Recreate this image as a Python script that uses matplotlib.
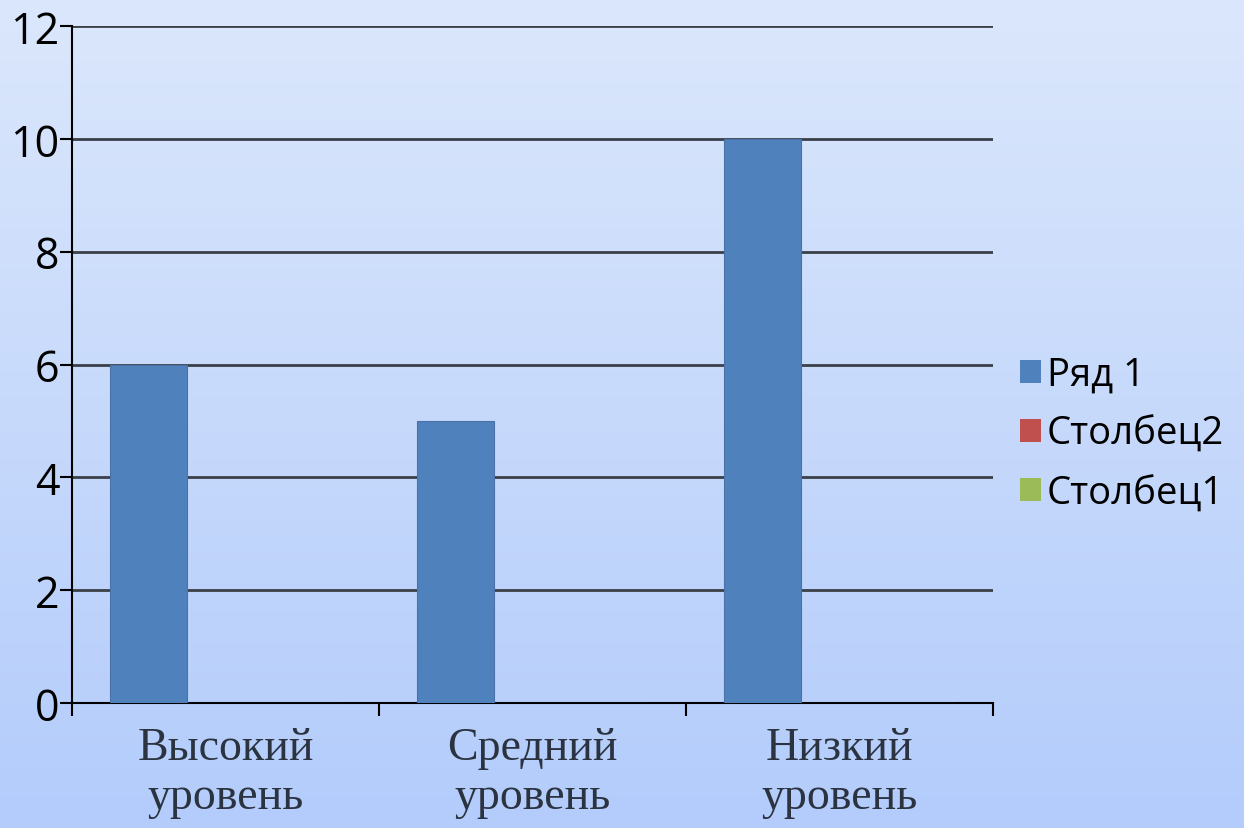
import numpy as np
import matplotlib
matplotlib.use("Agg")
import matplotlib.pyplot as plt
from matplotlib.patches import Patch
from matplotlib.colors import LinearSegmentedColormap

categories = ["Высокий\nуровень", "Средний\nуровень", "Низкий\nуровень"]
series_names = ["Ряд 1", "Столбец2", "Столбец1"]
ryad1 = [6, 5, 10]
stolbec2 = [0, 0, 0]
stolbec1 = [0, 0, 0]
yticks = [0, 2, 4, 6, 8, 10, 12]
colors = ["#4f81bd", "#c0504d", "#9bbb59"]

W, H = 1244, 829
fig = plt.figure(figsize=(W / 100, H / 100), dpi=100)

# background gradient
bg = fig.add_axes([0, 0, 1, 1], zorder=-10)
cmap = LinearSegmentedColormap.from_list("bg", ["#dbe7fc", "#b3ccfb"])
grad = np.linspace(0, 1, 256).reshape(-1, 1)
bg.imshow(grad, aspect="auto", cmap=cmap, extent=[0, 1, 0, 1], origin="upper")
bg.axis("off")

ax = fig.add_axes([72 / W, 1 - 704 / H, (993 - 72) / W, (704 - 27) / H])
ax.patch.set_alpha(0)

x = np.arange(len(categories))
width = 0.25
all_series = [ryad1, stolbec2, stolbec1]
for i, (vals, name, c) in enumerate(zip(all_series, series_names, colors)):
    ax.bar(x + (i - 1) * width, vals, width, color=c, edgecolor="#4a72a8",
           linewidth=0.8, zorder=3, label=name)

ax.set_xlim(-0.5, len(categories) - 0.5)
ax.set_ylim(0, 12)
ax.set_yticks(yticks)
ax.set_yticklabels([str(v) for v in yticks], fontsize=31, family="Open Sans", color="black")
ax.yaxis.grid(True, color="#3a3f48", linewidth=2, zorder=1)
ax.set_axisbelow(True)

ax.set_xticks(np.arange(len(categories) + 1) - 0.5)
ax.set_xticklabels([])
ax.set_xticks(x, minor=True)
ax.set_xticklabels(categories, minor=True, fontsize=33, family="Liberation Serif",
                   color="#2b3340", linespacing=1.2)
ax.tick_params(axis="x", which="minor", length=0, pad=17)
ax.tick_params(axis="x", which="major", length=9, width=1.5, color="black")
ax.tick_params(axis="y", length=9, width=1.5, color="black", pad=0)

for s in ["top", "right"]:
    ax.spines[s].set_visible(False)
for s in ["left", "bottom"]:
    ax.spines[s].set_color("black")
    ax.spines[s].set_linewidth(1.5)

handles = [Patch(facecolor=c, edgecolor="none") for c in colors]
leg = fig.legend(handles, series_names, loc="center left",
                 bbox_to_anchor=(1020 / W, 1 - 435 / H), frameon=False,
                 prop={"family": "Open Sans", "size": 27.5},
                 handlelength=0.55, handleheight=0.55, handletextpad=0.15,
                 labelspacing=0.56, borderaxespad=0, borderpad=0)

fig.savefig("out.png", dpi=100)
